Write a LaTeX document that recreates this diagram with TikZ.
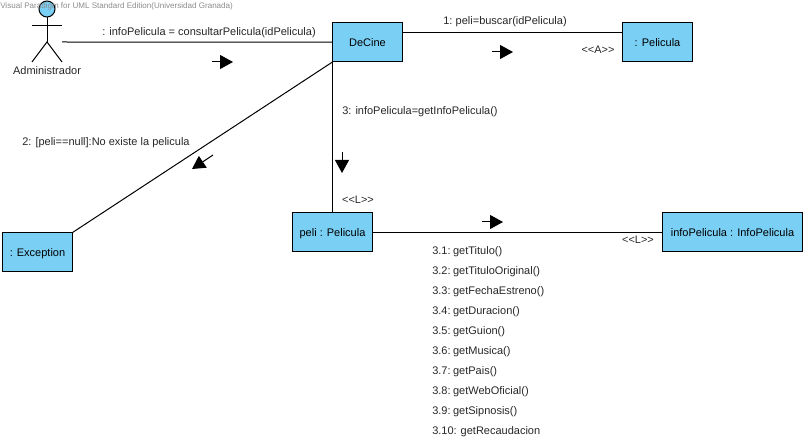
\documentclass[tikz,border=0pt]{standalone}
\usepackage{fontspec}
\setmainfont{Liberation Sans}
\usetikzlibrary{arrows.meta}
\definecolor{boxblue}{RGB}{122,207,245}
\tikzset{
	objbox/.style={draw=black, fill=boxblue, line width=0.75pt, minimum height=29.6pt, inner sep=0pt, outer sep=0pt, text height=6pt, text depth=0pt, font=\fontsize{8.25}{10}\selectfont},
	msg/.style={anchor=west, inner sep=0pt, font=\fontsize{8.25}{10}\selectfont, text=black!85},
	stereo/.style={anchor=center, inner sep=0pt, font=\fontsize{8.2}{9}\selectfont, text=black!85},
	link/.style={line width=0.75pt},
	dirarrow/.style={line width=0.75pt, -{Triangle[length=9.75pt,width=10.5pt]}}
}
\begin{document}
\begin{tikzpicture}[x=0.75pt,y=-0.75pt]
	\useasboundingbox (0,0) rectangle (806,441);
	% actor
	\node[circle, draw=black, fill=boxblue, line width=0.75pt, minimum size=12pt, inner sep=0pt] (adminHead) at (47,9) {};
	\coordinate (adminHip) at (47,42);
	\coordinate (adminHand) at (62,42);
	\draw[link] (adminHead.south) -- (adminHip);
	\draw[link] (32,26) -- (62,26);
	\draw[link] (32,62) -- (adminHip) -- (62,62);
	\node[msg, anchor=center] (admin) at (47,71) {Administrador};
	\node[anchor=west, inner sep=0pt, text=black!45, font=\fontsize{6.04}{8}\selectfont] (watermark) at (0,6.5) {Visual Paradigm for UML Standard Edition(Universidad Granada)};
	% objects
	\node[objbox, minimum width=52.5pt] (deCine) at (367.5,42.25) {DeCine};
	\node[objbox, minimum width=52.5pt] (pelicula) at (657.5,42.25) {: Pelicula};
	\node[objbox, minimum width=52.5pt] (exception) at (37.5,252.25) {: Exception};
	\node[objbox, minimum width=60pt] (peli) at (332.5,232.25) {peli : Pelicula};
	\node[objbox, minimum width=105pt] (infoPeli) at (732.5,232.25) {infoPelicula : InfoPelicula};
	% links
	\draw[link] (adminHand) -- (deCine.west);
	\draw[link] ([yshift=7.5pt]deCine.east) -- ([yshift=7.5pt]pelicula.west);
	\draw[link] (deCine.south west) -- (exception.north east);
	\draw[link] (deCine.south west) -- (peli.north);
	\draw[link] (peli.east) -- (infoPeli.west);
	% direction of the messages
	\draw[dirarrow] (212,62) -- (233,62);
	\draw[dirarrow] (492,52) -- (513,52);
	\draw[dirarrow] (342,152) -- (342,173);
	\draw[dirarrow] (213,155) -- (192,169);
	\draw[dirarrow] (482,222) -- (503,222);
	% messages
	\node[msg] (msgConsultar) at (102,33) {: infoPelicula = consultarPelicula(idPelicula)};
	\node[msg] (msgBuscar) at (443,22) {\spaceskip=1.7pt 1: peli=buscar(idPelicula)};
	\node[msg] (msgInfo) at (342,112) {3: infoPelicula=getInfoPelicula()};
	\node[msg] (msgNull) at (22,143) {2: [peli==null]:No existe la pelicula};
	\foreach \n/\txt [count=\i from 0] in {1/getTitulo(), 2/getTituloOriginal(), 3/getFechaEstreno(), 4/getDuracion(), 5/getGuion(), 6/getMusica(), 7/getPais(), 8/getWebOficial(), 9/getSipnosis()}
		\node[msg] (get\n) at (432,252+20*\i) {\spaceskip=1.1pt 3.\n: \txt};
	\node[msg] (get10) at (432,432) {\spaceskip=1.1pt 3.10:\hspace{3pt}getRecaudacion};
	% stereotypes
	\node[stereo] (stereoA) at (598,50) {<{}<A>{}>};
	\node[stereo] (stereoLa) at (358,200) {<{}<L>{}>};
	\node[stereo] (stereoLb) at (638,240) {<{}<L>{}>};
\end{tikzpicture}
\end{document}
